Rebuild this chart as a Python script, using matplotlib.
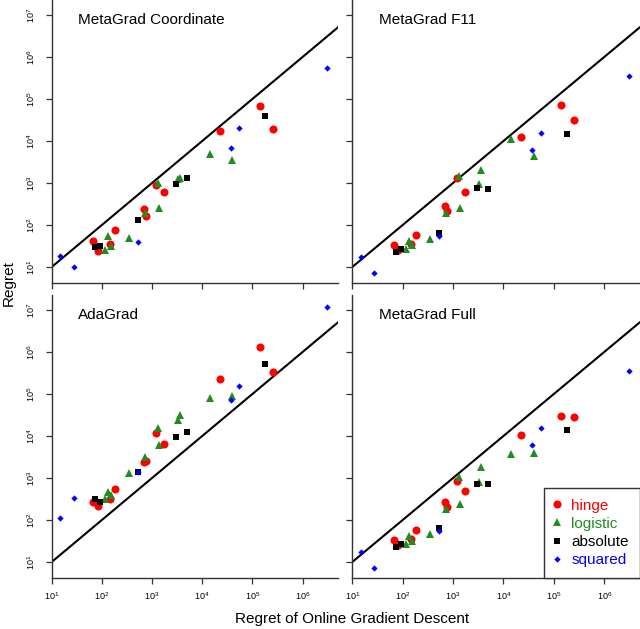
import matplotlib
matplotlib.use("Agg")
import matplotlib.pyplot as plt
import numpy as np

plt.rcParams['font.family'] = ['Liberation Sans', 'DejaVu Sans']
plt.rcParams['mathtext.fontset'] = 'custom'
plt.rcParams['mathtext.rm'] = 'Liberation Sans'
plt.rcParams['mathtext.it'] = 'Liberation Sans'
plt.rcParams['mathtext.default'] = 'regular'

# regret of online gradient descent (x, shared by all panels)
hinge_x = [66.5, 82.4, 145, 183, 681, 746, 1180, 1730, 22200, 139000, 256000]
logistic_x = [117, 131, 152, 348, 723, 1290, 1400, 3290, 3660, 14000, 39700]
absolute_x = [72.9, 91.8, 516, 3000, 4890, 180000]
squared_x = [14.7, 27.4, 516, 37300, 54700, 3050000]

# MetaGrad Coordinate
coord_hinge = [41.6, 24.0, 35.3, 74.6, 240, 167, 879, 611, 17000, 66800, 19000]
coord_logistic = [25.9, 55.7, 31.6, 49.9, 190, 1020, 249, 1240, 1340, 4990, 3470]
coord_absolute = [29.9, 31.6, 134, 929, 1290, 40100]
coord_squared = [18.3, 10.2, 39.4, 6810, 20000, 557000]

# MetaGrad F11
f11_hinge = [34.0, 25.4, 34.7, 57.8, 288, 211, 1340, 611, 12200, 70600, 32200]
f11_logistic = [27.4, 41.6, 32.8, 47.3, 190, 1500, 249, 929, 2040, 11000, 4320]
f11_absolute = [23.2, 27.4, 65.6, 760, 733, 14400]
f11_squared = [17.6, 7.33, 53.7, 6110, 15800, 347000]

# AdaGrad
ada_hinge = [274, 211, 316, 537, 2400, 2540, 12000, 6560, 228000, 1315000, 340000]
ada_logistic = [310, 473, 394, 1290, 3100, 15800, 6000, 24000, 31000, 80400, 87900]
ada_absolute = [316, 269, 1390, 9640, 12400, 527000]
ada_squared = [110, 340, 1390, 71900, 152000, 12000000]

# MetaGrad Full
full_hinge = [32.8, 25.4, 34.7, 56.8, 269, 204, 865, 499, 10800, 30500, 28800]
full_logistic = [26.9, 40.8, 32.2, 45.6, 179, 1080, 240, 804, 1830, 3660, 3860]
full_absolute = [22.3, 27.4, 63.4, 719, 719, 13900]
full_squared = [17.3, 7.33, 53.7, 6110, 15500, 347000]

titles = ["MetaGrad Coordinate", "MetaGrad F11", "AdaGrad", "MetaGrad Full"]
panel_y = [
    (coord_hinge, coord_logistic, coord_absolute, coord_squared),
    (f11_hinge, f11_logistic, f11_absolute, f11_squared),
    (ada_hinge, ada_logistic, ada_absolute, ada_squared),
    (full_hinge, full_logistic, full_absolute, full_squared),
]
xs = [hinge_x, logistic_x, absolute_x, squared_x]
labels = ["hinge", "logistic", "absolute", "squared"]
colors = ["#ff0000", "#228b22", "#000000", "#0000ff"]
markers = ["o", "^", "s", "D"]
msizes = [5.8, 6.4, 4.8, 3.2]

W, H = 640, 629
fig = plt.figure(figsize=(6.4, 6.29), dpi=100)

# panel rectangles in pixels: left, top, right, bottom
rects = [(51.7, 0, 337.7, 282.7), (352.3, 0, 639.5, 282.7),
         (51.7, 295, 337.7, 577.7), (352.3, 295, 639.5, 577.7)]

axc = '#333333'
for i, (l, t, r, b) in enumerate(rects):
    ax = fig.add_axes([l / W, 1 - b / H, (r - l) / W, (b - t) / H])
    ax.set_xscale('log')
    ax.set_yscale('log')
    ax.set_xlim(10, 10**6.7)
    ax.set_ylim(10**0.626, 10**7.357)
    ax.plot([1, 1e9], [1, 1e9], color='black', lw=1.5, zorder=1)
    for k in range(4):
        ax.plot(xs[k], panel_y[i][k], linestyle='none', marker=markers[k],
                ms=msizes[k], mew=0, color=colors[k], label=labels[k], zorder=2 + k)
    ax.spines['top'].set_visible(False)
    ax.spines['right'].set_visible(False)
    for s in ['left', 'bottom']:
        ax.spines[s].set_color(axc)
        ax.spines[s].set_linewidth(1.0)
    ax.set_xticks([10.0**e for e in range(1, 7)])
    ax.set_yticks([10.0**e for e in range(1, 8)])
    ax.minorticks_off()
    ax.tick_params(axis='both', direction='out', length=4.5, width=0.9,
                   color=axc, labelsize=6.5)
    ax.tick_params(axis='x', pad=4.5)
    ax.tick_params(axis='y', pad=6, labelrotation=90)
    for lab in ax.get_yticklabels():
        lab.set_verticalalignment('center')
    if i < 2:
        ax.tick_params(axis='x', labelbottom=False)
    if i % 2 == 1:
        ax.tick_params(axis='y', labelleft=False)
    ax.text(0.093, 0.929, titles[i], transform=ax.transAxes, fontsize=11,
            ha='left', va='center')
    if i == 3:
        ax.legend(loc='lower right', bbox_to_anchor=(1, 0), borderaxespad=0,
                  fancybox=False, framealpha=1, edgecolor=axc, fontsize=11,
                  handlelength=0.35, handletextpad=0.74, labelspacing=0.27,
                  borderpad=0.7, labelcolor=colors)

fig.text(352 / W, 1 - 619 / H, "Regret of Online Gradient Descent",
         fontsize=11, ha='center', va='center')
fig.text(9 / W, 1 - 283 / H, "Regret", fontsize=11, rotation=90,
         ha='center', va='center')

fig.savefig("out.png", dpi=100)
